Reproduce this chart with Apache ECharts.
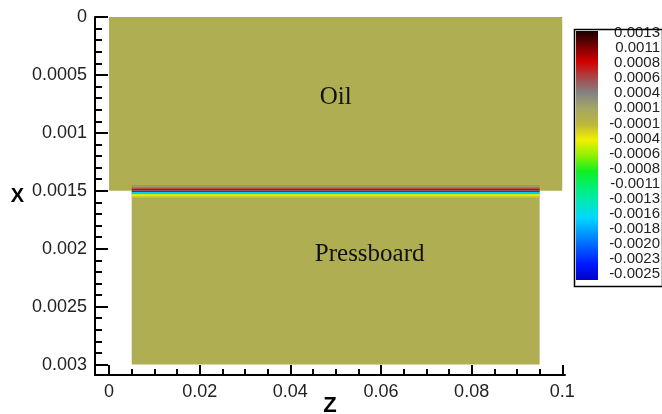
<!DOCTYPE html>
<html>
<head>
<meta charset="utf-8">
<title>Oil / Pressboard</title>
<script src="https://cdn.jsdelivr.net/npm/echarts@6.0.0/dist/echarts.min.js"></script>
<style>
html,body{margin:0;padding:0;background:#fff;}
#chart{width:662px;height:414px;}
</style>
</head>
<body>
<div id="chart"></div>
<script>
// cells of the field: [z start, z end, x start, x end, value]
var oilCells = [
	[0, 0.1, 0, 0.0015, 0.00001],
	[0.005, 0.095, 0.00145, 0.00147, 0.0002],
	[0.005, 0.095, 0.00147, 0.00148, 0.0004],
	[0.005, 0.095, 0.00148, 0.0015, 0.0008]
];
var boardCells = [
	[0.005, 0.095, 0.0015, 0.003, 0.00001],
	[0.005, 0.095, 0.0015, 0.00151, -0.0021],
	[0.005, 0.095, 0.00151, 0.00152, -0.0016],
	[0.005, 0.095, 0.00152, 0.00153, -0.0009],
	[0.005, 0.095, 0.00153, 0.00155, -0.0004],
	[0.005, 0.095, 0.00155, 0.00156, -0.0002]
];
var regionNames = ['Oil', 'Pressboard'];
var regionZ = [0.05, 0.0575];
var regionX = [0.00069, 0.00205];

var zTicks = [0, 0.02, 0.04, 0.06, 0.08, 0.1];
var zMinorTicks = [0.005, 0.01, 0.015, 0.025, 0.03, 0.035, 0.045, 0.05, 0.055, 0.065, 0.07, 0.075, 0.085, 0.09, 0.095];
var xTicks = [0, 0.0005, 0.001, 0.0015, 0.002, 0.0025, 0.003];
var xMinorTicks = [0.0001, 0.0002, 0.0003, 0.0004, 0.0006, 0.0007, 0.0008, 0.0009, 0.0011, 0.0012, 0.0013, 0.0014,
	0.0016, 0.0017, 0.0018, 0.0019, 0.0021, 0.0022, 0.0023, 0.0024, 0.0026, 0.0027, 0.0028, 0.0029];

// colour bar, top to bottom
var levelLabels = ['0.0013', '0.0011', '0.0008', '0.0006', '0.0004', '0.0001', '-0.0001', '-0.0004', '-0.0006',
	'-0.0008', '-0.0011', '-0.0013', '-0.0016', '-0.0018', '-0.0020', '-0.0023', '-0.0025'];
var levelColors = ['#1a0000', '#7a0000', '#d40000', '#a84848', '#848484', '#a6a664', '#bcb83a', '#f2f000', '#90f000',
	'#10f020', '#00f070', '#00e8b8', '#00d8ff', '#0098ff', '#0058ff', '#0018ff', '#0000c8'];
var levelMin = -0.0025, levelMax = 0.0013;

var chart = echarts.init(document.getElementById('chart'));

function renderCell(params, api){
	var p0 = api.coord([api.value(0), api.value(2)]);
	var p1 = api.coord([api.value(1), api.value(3)]);
	return {
		type: 'rect',
		shape: {
			x: Math.min(p0[0], p1[0]),
			y: Math.min(p0[1], p1[1]),
			width: Math.abs(p1[0] - p0[0]),
			height: Math.abs(p1[1] - p0[1])
		},
		style: {fill: api.visual('color')}
	};
}

function renderName(params, api){
	var p = api.coord([api.value(0), api.value(1)]);
	return {
		type: 'text',
		x: p[0], y: p[1],
		style: {
			text: regionNames[params.dataIndex],
			font: '25px "Liberation Serif", "Times New Roman", serif',
			fill: '#111',
			align: 'center',
			verticalAlign: 'middle'
		}
	};
}

function renderBar(params, api){
	var p0 = api.coord([api.value(0), api.value(2)]);
	var p1 = api.coord([api.value(1), api.value(3)]);
	var stops = [];
	for (var i = 0; i < levelColors.length; i++) {
		stops.push({offset: i / (levelColors.length - 1), color: levelColors[i]});
	}
	return {
		type: 'rect',
		shape: {x: p0[0], y: p1[1], width: p1[0] - p0[0], height: p0[1] - p1[1]},
		style: {fill: new echarts.graphic.LinearGradient(0, 0, 0, 1, stops)}
	};
}

var sans = '"Liberation Sans", Arial, sans-serif';
var lineStyle = {color: '#000', width: 2};

var cells = oilCells.concat(boardCells);
var names = [];
for (var i = 0; i < regionNames.length; i++) names.push([regionZ[i], regionX[i]]);

var option = {
	animation: false,
	backgroundColor: '#fff',
	grid: [
		{left: 95, top: 17, width: 470, height: 358, outerBoundsMode: 'none', containLabel: false},
		{left: 576, top: 31, width: 22, height: 249, outerBoundsMode: 'none', containLabel: false},
		{left: 576, top: 33, width: 22, height: 241, outerBoundsMode: 'none', containLabel: false}
	],
	xAxis: [
		{
			type: 'value', gridIndex: 0, min: -0.0031, max: 0.1006, position: 'bottom',
			name: 'Z', nameLocation: 'middle', nameGap: 20, nameMoveOverlap: false,
			nameTextStyle: {fontFamily: sans, fontSize: 22, fontWeight: 'bold', color: '#000'},
			axisLine: {onZero: false, lineStyle: lineStyle},
			axisTick: {inside: true, length: 10, lineStyle: lineStyle, customValues: zTicks},
			axisLabel: {customValues: zTicks, margin: 8, fontFamily: sans, fontSize: 18, color: '#222'},
			splitLine: {show: false}
		},
		{
			type: 'value', gridIndex: 0, min: -0.0031, max: 0.1006, position: 'bottom',
			axisLine: {show: false, onZero: false},
			axisTick: {inside: true, length: 6, lineStyle: lineStyle, customValues: zMinorTicks},
			axisLabel: {show: false},
			splitLine: {show: false}
		},
		{type: 'value', gridIndex: 1, min: 0, max: 1, show: false},
		{type: 'value', gridIndex: 2, min: 0, max: 1, show: false}
	],
	yAxis: [
		{
			type: 'value', gridIndex: 0, min: 0, max: 0.00309, inverse: true, position: 'left',
			name: 'X', nameLocation: 'middle', nameGap: 71, nameRotate: 0, nameMoveOverlap: false,
			nameTextStyle: {fontFamily: sans, fontSize: 20, fontWeight: 'bold', color: '#000', padding: [0, 0, 12, 0]},
			axisLine: {onZero: false, lineStyle: lineStyle},
			axisTick: {inside: true, length: 13, lineStyle: lineStyle, customValues: xTicks},
			axisLabel: {customValues: xTicks, margin: 8, fontFamily: sans, fontSize: 18, color: '#222'},
			splitLine: {show: false}
		},
		{
			type: 'value', gridIndex: 0, min: 0, max: 0.00309, inverse: true, position: 'left',
			axisLine: {show: false, onZero: false},
			axisTick: {inside: true, length: 7, lineStyle: lineStyle, customValues: xMinorTicks},
			axisLabel: {show: false},
			splitLine: {show: false}
		},
		{type: 'value', gridIndex: 1, min: levelMin, max: levelMax, show: false},
		{
			type: 'category', gridIndex: 2, position: 'right', inverse: true, boundaryGap: false,
			data: levelLabels,
			axisLine: {show: false},
			axisTick: {show: false},
			axisLabel: {align: 'right', margin: 62, interval: 0, fontFamily: sans, fontSize: 15, color: '#222'},
			splitLine: {show: false}
		}
	],
	visualMap: {
		show: false, type: 'continuous', min: levelMin, max: levelMax,
		dimension: 4, seriesIndex: 0,
		inRange: {color: levelColors.slice().reverse()}
	},
	graphic: [{
		type: 'rect', left: 572, top: 27,
		shape: {width: 88, height: 257},
		style: {fill: 'none', stroke: '#000', lineWidth: 1.5},
		z: 10
	}],
	series: [
		{
			type: 'custom', xAxisIndex: 0, yAxisIndex: 0,
			renderItem: renderCell,
			encode: {x: [0, 1], y: [2, 3]},
			data: cells
		},
		{
			type: 'custom', xAxisIndex: 0, yAxisIndex: 0,
			renderItem: renderName,
			encode: {x: 0, y: 1},
			data: names,
			z: 5
		},
		{
			type: 'custom', xAxisIndex: 2, yAxisIndex: 2,
			renderItem: renderBar,
			encode: {x: [0, 1], y: [2, 3]},
			data: [[0, 1, levelMin, levelMax]]
		}
	]
};
chart.setOption(option);
</script>
</body>
</html>
